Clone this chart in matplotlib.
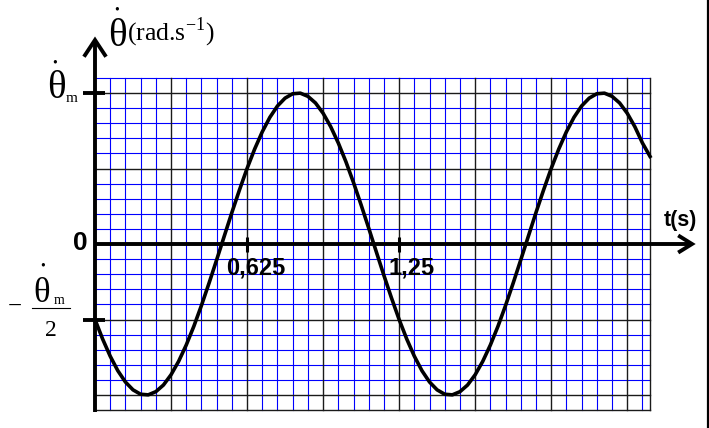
import matplotlib.pyplot as plt

# angular velocity, in units of theta_m, every half grid cell (0.03125 s)
t_s = [0.0, 0.03125, 0.0625, 0.09375, 0.125, 0.15625, 0.1875, 0.21875,
       0.25, 0.28125, 0.3125, 0.34375, 0.375, 0.40625, 0.4375, 0.46875,
       0.5, 0.53125, 0.5625, 0.59375, 0.625, 0.65625, 0.6875, 0.71875,
       0.75, 0.78125, 0.8125, 0.84375, 0.875, 0.90625, 0.9375, 0.96875,
       1.0, 1.03125, 1.0625, 1.09375, 1.125, 1.15625, 1.1875, 1.21875,
       1.25, 1.28125, 1.3125, 1.34375, 1.375, 1.40625, 1.4375, 1.46875,
       1.5, 1.53125, 1.5625, 1.59375, 1.625, 1.65625, 1.6875, 1.71875,
       1.75, 1.78125, 1.8125, 1.84375, 1.875, 1.90625, 1.9375, 1.96875,
       2.0, 2.03125, 2.0625, 2.09375, 2.125, 2.15625, 2.1875, 2.21875,
       2.25, 2.28125]
omega = [-0.500, -0.629, -0.743, -0.839, -0.914, -0.966, -0.995, -0.999,
         -0.978, -0.934, -0.866, -0.777, -0.669, -0.545, -0.407, -0.259,
         -0.105, 0.052, 0.208, 0.358, 0.500, 0.629, 0.743, 0.839,
         0.914, 0.966, 0.995, 0.999, 0.978, 0.934, 0.866, 0.777,
         0.669, 0.545, 0.407, 0.259, 0.105, -0.052, -0.208, -0.358,
         -0.500, -0.629, -0.743, -0.839, -0.914, -0.966, -0.995, -0.999,
         -0.978, -0.934, -0.866, -0.777, -0.669, -0.545, -0.407, -0.259,
         -0.105, 0.052, 0.208, 0.358, 0.500, 0.629, 0.743, 0.839,
         0.914, 0.966, 0.995, 0.999, 0.978, 0.934, 0.866, 0.777,
         0.669, 0.580]

x_ticks = [0.625, 1.25]
x_tick_labels = ['0,625', '1,25']
y_ticks = [1.0, -0.5]

t_cell = 0.0625
y_cell = 0.1
t_end = 2.28125
y_lim_grid = 1.1

plt.rcParams['mathtext.fontset'] = 'custom'
plt.rcParams['mathtext.rm'] = 'Liberation Serif'

fig = plt.figure(figsize=(7.09, 4.28), dpi=100)
ax = fig.add_axes([0, 0, 1, 1])
ax.set_xlim(-95 / 243.3, (709 - 95) / 243.3)
ax.set_ylim(-(428 - 244) / 151, 244 / 151)
ax.axis('off')


def px(x, y):
    # pixel position in the picture -> data coordinates
    return (x - 95) / 243.3, (244 - y) / 151


# millimetre-paper grid
dark = '#1a1a1a'
n_t = int(round(t_end / t_cell))
for k in range(1, n_t + 1):
    t = k * t_cell
    if k % 5 == 0:
        ax.plot([t, t], [-y_lim_grid, y_lim_grid], color=dark, lw=1.0, zorder=2)
    else:
        ax.plot([t, t], [-y_lim_grid, y_lim_grid], color='#0000ff', lw=0.8, zorder=1)
ax.plot([t_end, t_end], [-y_lim_grid, y_lim_grid], color=dark, lw=1.0, zorder=2)
for j in range(-11, 12):
    y = j * y_cell
    c, lw, z = (dark, 1.0, 2) if j % 5 == 0 or j == -11 else ('#0000ff', 0.8, 1)
    ax.plot([0, t_end], [y, y], color=c, lw=lw, zorder=z)

# curve
ax.plot(t_s, omega, color='black', lw=2.6, zorder=5, solid_joinstyle='round')

# axes with open arrow heads
x_tip = px(692, 244)[0]
y_tip = px(94, 40)[1]
ax.plot([0, x_tip], [0, 0], color='black', lw=2.8, zorder=6, solid_capstyle='butt')
ax.plot([0, 0], [-y_lim_grid - 0.01, y_tip], color='black', lw=2.8, zorder=6, solid_capstyle='butt')
ax.plot([x_tip - 0.05, x_tip, x_tip - 0.05], [0.05, 0, -0.05], color='black', lw=2.8,
        zorder=6, solid_joinstyle='miter')
ax.plot([-0.041, 0, 0.041], [y_tip - 0.1, y_tip, y_tip - 0.1], color='black', lw=2.8,
        zorder=6, solid_joinstyle='miter')

# ticks
for y in y_ticks:
    ax.plot([-0.049, 0.041], [y, y], color='black', lw=2.8, zorder=6, solid_capstyle='butt')
for t in x_ticks:
    ax.plot([t, t], [-0.05, 0.045], color='black', lw=2.2, zorder=6, solid_capstyle='butt')

# right frame
ax.plot([px(708, 0)[0]] * 2, [px(0, 0)[1], px(0, 428)[1]], color='black', lw=1.6)

bold = dict(family='Liberation Sans', weight='bold', color='black', zorder=7)
serif = dict(family='Liberation Serif', color='black', zorder=7)

for t, lab, xc in zip(x_ticks, x_tick_labels, [256, 412]):
    ax.text(px(xc, 0)[0], px(0, 268)[1], lab, fontsize=17, ha='center', va='center', **bold)
ax.text(*px(80, 243), '0', fontsize=19, ha='center', va='center', **bold)
ax.text(*px(680, 220), 't(s)', fontsize=15.5, ha='center', va='center', **bold)

# y label on top
ax.text(*px(117, 36), 'θ', fontsize=28, ha='center', va='center', **serif)
ax.text(*px(117, 10), '•', fontsize=10, ha='center', va='center', **serif)
ax.text(*px(127, 32), r'(rad.s$^{-1}$)', fontsize=18.5, ha='left', va='center', **serif)

# theta_m
ax.text(*px(56, 88), 'θ', fontsize=28, ha='center', va='center', **serif)
ax.text(*px(55, 63), '•', fontsize=10, ha='center', va='center', **serif)
ax.text(*px(72, 98), 'm', fontsize=11, ha='center', va='center', **serif)

# -theta_m / 2
ax.text(*px(15, 307), '−', fontsize=18, ha='center', va='center', **serif)
ax.text(*px(42, 293), 'θ', fontsize=25, ha='center', va='center', **serif)
ax.text(*px(43, 266), '•', fontsize=10, ha='center', va='center', **serif)
ax.text(*px(59, 301), 'm', fontsize=10, ha='center', va='center', **serif)
ax.plot([px(32, 0)[0], px(70, 0)[0]], [px(0, 308)[1]] * 2, color='black', lw=0.8)
ax.text(*px(51, 330), '2', fontsize=17, ha='center', va='center', **serif)

fig.savefig('out.png', dpi=100)
